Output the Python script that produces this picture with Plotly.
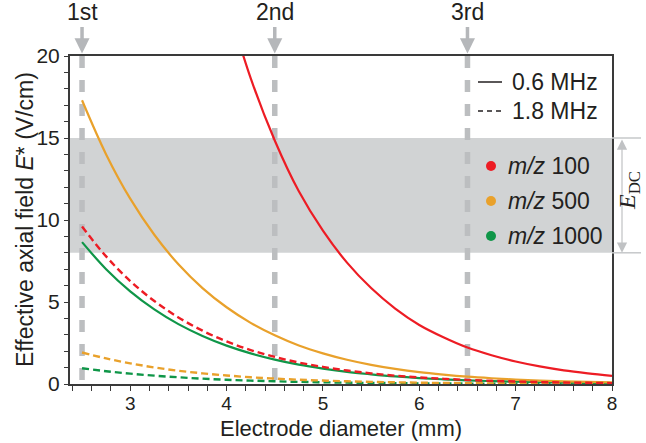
import plotly.graph_objects as go

# ---------------- data ----------------
diameter_mm = [2.5, 2.75, 3.0, 3.25, 3.5, 3.75, 4.0, 4.25, 4.5, 4.75, 5.0, 5.25,
               5.5, 5.75, 6.0, 6.25, 6.5, 6.75, 7.0, 7.25, 7.5, 7.75, 8.0]

# 0.6 MHz (solid)
mz100_06 = [None, None, None, None, None, None, 23.4, 18.65, 14.85, 11.75, 9.35, 7.4,
            5.85, 4.6, 3.6, 2.85, 2.22, 1.75, 1.37, 1.07, 0.83, 0.65, 0.5]
mz500_06 = [17.3, 14.0, 11.3, 9.1, 7.3, 5.85, 4.68, 3.73, 2.97, 2.35, 1.87, 1.48,
            1.17, 0.92, 0.72, 0.57, 0.445, 0.35, 0.27, 0.21, 0.166, 0.13, 0.10]
mz1000_06 = [8.65, 7.0, 5.65, 4.55, 3.65, 2.93, 2.34, 1.87, 1.49, 1.18, 0.94, 0.74,
             0.59, 0.46, 0.36, 0.285, 0.22, 0.175, 0.137, 0.107, 0.083, 0.065, 0.05]
# 1.8 MHz (dashed)
mz100_18 = [9.6, 7.78, 6.28, 5.06, 4.06, 3.25, 2.6, 2.07, 1.65, 1.31, 1.04, 0.82,
            0.65, 0.51, 0.40, 0.317, 0.247, 0.194, 0.152, 0.118, 0.092, 0.072, 0.056]
mz500_18 = [1.92, 1.56, 1.26, 1.01, 0.81, 0.65, 0.52, 0.41, 0.33, 0.26, 0.21, 0.164,
            0.13, 0.102, 0.08, 0.063, 0.049, 0.039, 0.03, 0.024, 0.018, 0.014, 0.011]
mz1000_18 = [0.96, 0.78, 0.63, 0.51, 0.41, 0.325, 0.26, 0.207, 0.165, 0.13, 0.104, 0.082,
             0.065, 0.051, 0.04, 0.032, 0.025, 0.019, 0.015, 0.012, 0.009, 0.007, 0.0056]

electrode_positions = [2.5, 4.5, 6.5]
electrode_labels = ["1st", "2nd", "3rd"]
edc_band = [8, 15]

freq_labels = ["0.6 MHz", "1.8 MHz"]
mz_labels = ["100", "500", "1000"]

# ---------------- styles ----------------
RED = "#ed1c24"
ORANGE = "#e9a12b"
GREEN = "#0f9648"
GRAY_BAND = "#d1d3d4"
GRAY_LINE = "#bcbec0"
GRAY_ARROW = "#b5b7ba"
TXT = "#231f20"
AXC = "#3a3a3a"
FONT = "Liberation Sans, Arial, sans-serif"
SOLID_W = 2.2
DASH = "7px,4px"

W, H = 646, 443
ML, MR, MT, MB = 70, 34, 56, 59
PW, PH = W - ML - MR, H - MT - MB


def px2paper(px, py):
    return (px - ML) / PW, (H - MB - py) / PH


fig = go.Figure()

series = [
    (mz1000_06, GREEN, "solid", "m/z 1000, 0.6 MHz"),
    (mz1000_18, GREEN, DASH, "m/z 1000, 1.8 MHz"),
    (mz500_06, ORANGE, "solid", "m/z 500, 0.6 MHz"),
    (mz500_18, ORANGE, DASH, "m/z 500, 1.8 MHz"),
    (mz100_06, RED, "solid", "m/z 100, 0.6 MHz"),
    (mz100_18, RED, DASH, "m/z 100, 1.8 MHz"),
]
for vals, col, dash, name in series:
    fig.add_trace(go.Scatter(
        x=diameter_mm, y=vals, mode="lines", name=name, showlegend=False,
        line=dict(color=col, width=SOLID_W if dash == "solid" else 2.4, dash=dash,
                  shape="spline", smoothing=1.0),
        connectgaps=False, hoverinfo="skip"))

# E_DC band
fig.add_shape(type="rect", xref="paper", yref="y", x0=0, x1=1,
              y0=edc_band[0], y1=edc_band[1], fillcolor=GRAY_BAND,
              line=dict(width=0), layer="below")
for yv in edc_band:
    fig.add_shape(type="line", xref="paper", yref="y", x0=1, x1=px2paper(641, 0)[0],
                  y0=yv, y1=yv, line=dict(color="#c6c8ca", width=1.5))

# vertical dashed electrode lines
for xv in electrode_positions:
    fig.add_shape(type="line", xref="x", yref="paper", x0=xv, x1=xv, y0=1, y1=0,
                  line=dict(color=GRAY_LINE, width=5.5, dash="12px,12px"), layer="below")

annotations = []
# electrode arrows + labels
for xv, lab in zip(electrode_positions, electrode_labels):
    annotations.append(dict(
        x=xv, xref="x", y=1.008, yref="paper", text=lab, showarrow=True,
        xanchor="center", yanchor="middle",
        ax=0, ay=-41, arrowhead=2, arrowwidth=3.5, arrowsize=0.86,
        arrowcolor=GRAY_ARROW, font=dict(family=FONT, size=23, color=TXT)))

# E_DC double arrow
annotations.append(dict(
    x=px2paper(622, 0)[0], xref="paper", y=edc_band[0], yref="y",
    ax=0, axref="pixel", ay=edc_band[1], ayref="y", text="", showarrow=True,
    arrowhead=2, startarrowhead=2, arrowside="end+start", arrowwidth=1.2,
    arrowsize=1.7, startarrowsize=1.7, arrowcolor="#c0c2c4"))
xe, ye = px2paper(629, 191)
annotations.append(dict(
    x=xe, y=ye, xref="paper", yref="paper", textangle=-90, showarrow=False,
    xanchor="center", yanchor="middle", borderpad=0,
    text="<i>E</i><sub>DC</sub>",
    font=dict(family="Liberation Serif, Times New Roman, serif", size=24, color=TXT)))

# frequency key
freq_y = [82, 111]
freq_dash = ["solid", "5px,4px"]
for lab, py, dsh in zip(freq_labels, freq_y, freq_dash):
    x0, yy = px2paper(478, py)
    x1, _ = px2paper(502, py)
    fig.add_shape(type="line", xref="paper", yref="paper", x0=x0, x1=x1, y0=yy, y1=yy,
                  line=dict(color=TXT, width=1.5, dash=dsh))
    xt, _ = px2paper(510, py)
    annotations.append(dict(x=xt, y=yy, xref="paper", yref="paper", xanchor="left",
                            yanchor="middle", text=lab, showarrow=False,
                            font=dict(family=FONT, size=23, color=TXT)))

# m/z key
mz_y = [166, 201, 236]
mz_cols = [RED, ORANGE, GREEN]
for lab, py, col in zip(mz_labels, mz_y, mz_cols):
    xd, yy = px2paper(491, py)
    fig.add_shape(type="circle", xref="paper", yref="paper", xsizemode="pixel",
                  ysizemode="pixel", xanchor=xd, yanchor=yy, x0=-5, x1=5, y0=-5, y1=5,
                  fillcolor=col, line=dict(width=0))
    xt, _ = px2paper(506, py)
    annotations.append(dict(x=xt, y=yy, xref="paper", yref="paper", xanchor="left",
                            yanchor="middle", text="<i>m/z</i> " + lab, showarrow=False,
                            font=dict(family=FONT, size=23, color=TXT)))

# axis titles
annotations.append(dict(x=px2paper(25, 0)[0], y=0.5, xref="paper", yref="paper",
                        xanchor="center", yanchor="middle",
                        textangle=-90, showarrow=False,
                        text="Effective axial field <i>E</i>* (V/cm)",
                        font=dict(family=FONT, size=23, color=TXT)))
annotations.append(dict(x=0.5, y=px2paper(0, 428)[1], xref="paper", yref="paper",
                        xanchor="center", yanchor="middle", borderpad=0,
                        showarrow=False, text="Electrode diameter (mm)",
                        font=dict(family=FONT, size=22, color=TXT)))

fig.update_layout(
    width=W, height=H, margin=dict(l=ML, r=MR, t=MT, b=MB, pad=0),
    paper_bgcolor="white", plot_bgcolor="rgba(0,0,0,0)",
    showlegend=False, annotations=annotations,
    font=dict(family=FONT, color=TXT),
)
fig.update_xaxes(
    range=[2.375, 8], showline=True, linecolor=AXC, linewidth=2, mirror=True,
    ticks="outside", ticklen=5, tickwidth=1.3, tickcolor=AXC, tick0=0, dtick=1,
    ticklabelstandoff=-4,
    minor=dict(dtick=0.2, tick0=0, ticks="outside", ticklen=5, tickwidth=1.3, tickcolor=AXC),
    showgrid=False, zeroline=False, tickfont=dict(family=FONT, size=19, color=TXT))
fig.update_yaxes(
    range=[0, 20], showline=True, linecolor=AXC, linewidth=2, mirror=True,
    ticks="outside", ticklen=4, tickwidth=1.3, tickcolor=AXC, tick0=0, dtick=5,
    minor=dict(dtick=1, tick0=0, ticks="outside", ticklen=4, tickwidth=1.3, tickcolor=AXC),
    showgrid=False, zeroline=False, tickfont=dict(family=FONT, size=21, color=TXT))

fig.write_html("out.html", config=dict(displayModeBar=False))
